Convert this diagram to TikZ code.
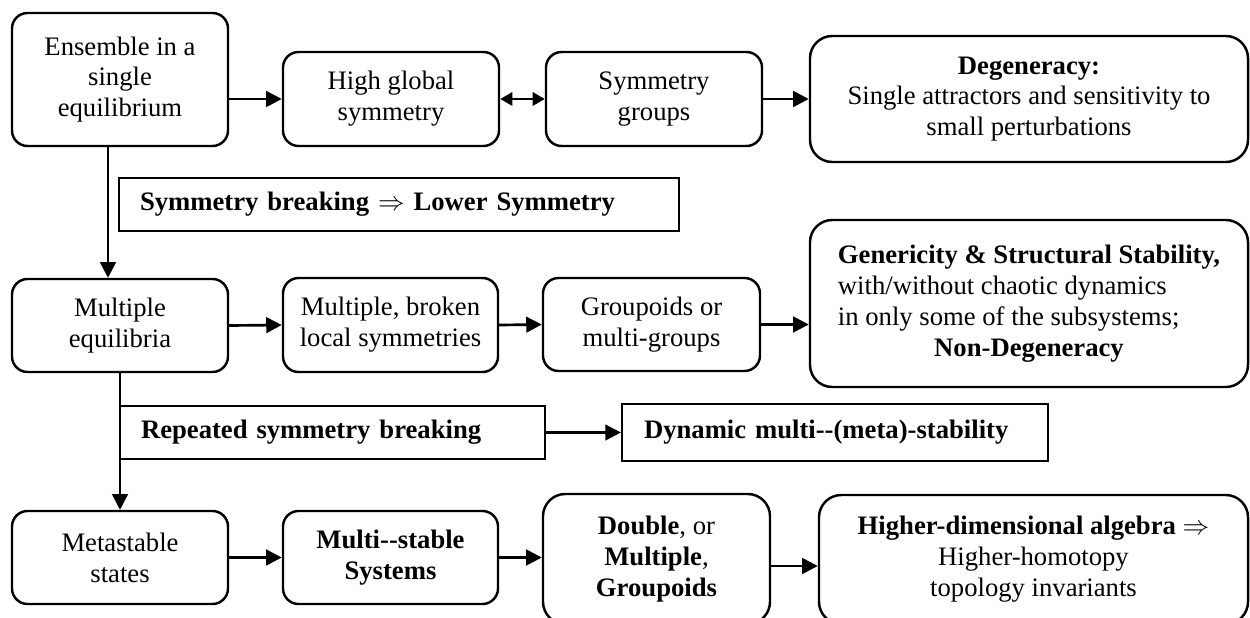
\documentclass[tikz,border=0pt]{standalone}
\usepackage{fontspec}
\setmainfont{Liberation Serif}
\usetikzlibrary{arrows.meta}
\begin{document}
\begin{tikzpicture}[x=0.45pt,y=-0.45pt,
  every node/.style={font=\fontsize{12}{13.9}\selectfont},
  rbox/.style={draw, line width=1.1pt, rounded corners=7pt, inner sep=0pt, align=center},
  bigbox/.style={rbox, rounded corners=10pt},
  sbox/.style={draw, line width=1pt, inner sep=0pt, align=left},
  arr/.style={line width=1.2pt, -{Triangle[length=7pt,width=7pt]}},
  darr/.style={line width=1.2pt, {Triangle[length=5.5pt,width=6pt]}-{Triangle[length=5.5pt,width=6pt]}}]
\useasboundingbox (0,0) rectangle (1250,617);
\clip (0,0) rectangle (1250,617);
% row 1
\node (ens)  [rbox, minimum width=97.2pt, minimum height=59.85pt] at (120,79.5) {Ensemble in a\\ single\\ equilibrium};
\node (high) [rbox, minimum width=97.2pt, minimum height=42.3pt] at (391,99) {High global\\ symmetry};
\node (sym)  [rbox, minimum width=97.2pt, minimum height=42.3pt] at (654,99) {Symmetry\\ groups};
\node (deg)  [bigbox, minimum width=197.1pt, minimum height=56.7pt] at (1029,99) {\textbf{Degeneracy:}\\ Single attractors and sensitivity to\\ small perturbations};
\node (sbr)  [sbox, minimum width=252pt, minimum height=23.85pt, text width=233.1pt] at (399,204.5) {\textbf{Symmetry breaking} $\Rightarrow$ \textbf{Lower Symmetry}};
% row 2
\node (meq)  [rbox, minimum width=97.2pt, minimum height=41.85pt] at (120,325.5) {Multiple\\ equilibria};
\node (mbr)  [rbox, minimum width=96.75pt, minimum height=42.3pt] at (390.5,325) {Multiple, broken\\ local symmetries};
\node (grp)  [rbox, minimum width=97.65pt, minimum height=41.85pt] at (651.5,324.5) {Groupoids or\\ multi-groups};
\node (gen)  [bigbox, minimum width=197.1pt, minimum height=75.15pt] at (1029,303.5) {\begin{tabular}{@{}l@{}}\textbf{Genericity \& Structural Stability,}\\ with/without chaotic dynamics\\ in only some of the subsystems;\\ \multicolumn{1}{@{}c@{}}{\textbf{Non-Degeneracy}}\end{tabular}};
\node (rep)  [sbox, minimum width=191.25pt, minimum height=23.85pt, text width=172.35pt] at (332.5,432.5) {\textbf{Repeated symmetry breaking}};
\node (dyn)  [sbox, minimum width=191.7pt, minimum height=25.65pt, text width=171.9pt] at (835,432.5) {\textbf{Dynamic multi-{}-(meta)-stability}};
% row 3
\node (meta) [rbox, minimum width=97.2pt, minimum height=41.85pt] at (120,557.5) {Metastable\\ states};
\node (mst)  [rbox, minimum width=96.75pt, minimum height=41.85pt] at (390.5,557.5) {\textbf{Multi-{}-stable}\\ \textbf{Systems}};
\node (dbl)  [bigbox, minimum width=102.15pt, minimum height=58.5pt] at (656.5,559) {\textbf{Double}, or\\ \textbf{Multiple},\\ \textbf{Groupoids}};
\node (hig)  [bigbox, minimum width=193.05pt, minimum height=58.05pt] at (1033.5,559.5) {\textbf{Higher-dimensional algebra} $\Rightarrow$\\ Higher-homotopy\\ topology invariants};
% connectors
\draw[arr] (ens.east |- high.west) -- (high.west);
\draw[darr] (high.east) -- (sym.west);
\draw[arr] (sym.east) -- (deg.west);
\draw[arr] ([xshift=-5.4pt]ens.south) -- ([xshift=-5.4pt]meq.north);
\draw[arr] (meq.east) -- (mbr.west);
\draw[arr] (mbr.east) -- (grp.west);
\draw[arr] (grp.east) -- (grp.east -| gen.west);
\draw[arr] (meq.south) -- (meta.north);
\draw[arr] (rep.east) -- (dyn.west);
\draw[arr] (meta.east) -- (mst.west);
\draw[arr] (mst.east) -- (mst.east -| dbl.west);
\draw[arr] ([yshift=-3.15pt]dbl.east) -- ([yshift=-3.15pt]dbl.east -| hig.west);
\end{tikzpicture}
\end{document}
